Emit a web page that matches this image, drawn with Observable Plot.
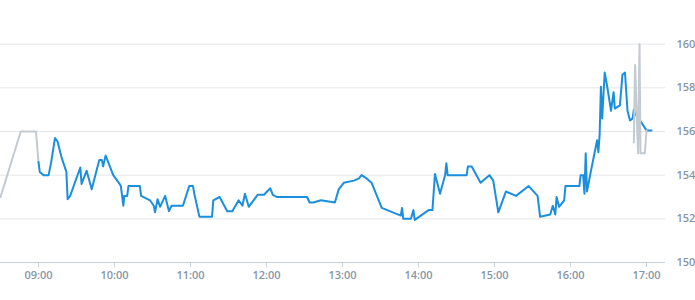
<!DOCTYPE html>
<html>
<head>
<meta charset="utf-8">
<script src="https://cdn.jsdelivr.net/npm/d3@7"></script>
<script src="https://cdn.jsdelivr.net/npm/@observablehq/plot@0.6"></script>
<style>
  html, body { margin: 0; padding: 0; background: #fff; }
  #chart svg { display: block; font-family: "Open Sans", sans-serif; }
</style>
</head>
<body>
<div id="chart"></div>
<script>
// Trading session (blue)
const mainTimes = ["09:00","09:01","09:04","09:08","09:10","09:13","09:15","09:18","09:22","09:23","09:25","09:33","09:34","09:38","09:42","09:48","09:50","09:51","09:53","09:59","10:04","10:05","10:07","10:07:40","10:10","10:11","10:20","10:21","10:28","10:31","10:32","10:34","10:36","10:40","10:43","10:45","10:54","10:59","11:02","11:03","11:07","11:17","11:18","11:23","11:29","11:33","11:38","11:41","11:43","11:46","11:53","11:58","12:03","12:05","12:08","12:32","12:34","12:37","12:43","12:54","12:57","13:01","13:09","13:13","13:15","13:19","13:23","13:31","13:46","13:47","13:48","13:54","13:56","13:57","14:08","14:11","14:13","14:17","14:21","14:22","14:23","14:38","14:39","14:42","14:49","14:56","14:59","15:03","15:09","15:17","15:27","15:34","15:36","15:44","15:46","15:48","15:49","15:51","15:55","15:56","16:07","16:08","16:10","16:11","16:12","16:13","16:16","16:21","16:22","16:23","16:24","16:25","16:27","16:29","16:32","16:34","16:35","16:39","16:41","16:43","16:45","16:47","16:49","16:50","16:51","16:55","17:00","17:04"];
const mainValues = [154.6,154.15,154.0,154.0,154.6,155.7,155.55,154.85,154.15,152.9,153.05,154.35,153.6,154.2,153.35,154.7,154.7,154.4,154.9,154.0,153.6,153.5,152.6,153.05,153.05,153.5,153.5,153.05,152.85,152.6,152.3,152.9,152.55,153.05,152.35,152.6,152.6,153.5,153.5,153.15,152.1,152.1,152.85,153.0,152.35,152.35,152.85,152.6,153.15,152.55,153.1,153.1,153.4,153.1,153.0,153.0,152.75,152.75,152.85,152.75,153.35,153.65,153.75,153.85,154.0,153.85,153.65,152.5,152.15,152.5,152.0,152.0,152.4,151.95,152.4,152.4,154.05,153.15,154.0,154.55,154.0,154.0,154.4,154.4,153.65,154.0,153.75,152.3,153.25,153.05,153.5,153.05,152.1,152.2,152.6,152.2,153.0,152.55,152.85,153.5,153.5,154.0,154.0,153.15,155.0,153.25,154.15,155.6,155.05,155.85,158.05,156.6,158.7,158.05,156.95,157.8,157.05,157.2,158.6,158.7,156.95,156.5,156.6,157.0,156.8,156.5,156.05,156.05];

// Pre-market (grey)
const preTimes = ["08:30","08:46","08:58","09:00"];
const preValues = [153.0,156.0,156.0,154.6];

// Post-market (grey)
const postTimes = ["16:50","16:51","16:53:20","16:54:30","16:55:15","16:58:40","17:00"];
const postValues = [155.5,159.05,155.0,160.0,155.0,155.0,156.05];

const yTicks = [150,152,154,156,158,160];
const xTickLabels = ["09:00","10:00","11:00","12:00","13:00","14:00","15:00","16:00","17:00"];
const xStart = "08:30", xEnd = "17:15";

const toDate = t => new Date(`2024-01-02T${t.length === 5 ? t + ":00" : t}`);
const rows = (ts, vs) => ts.map((t, i) => ({time: toDate(t), value: vs[i]}));
const mainData = rows(mainTimes, mainValues);
const preData = rows(preTimes, preValues);
const postData = rows(postTimes, postValues);

const labelColor = "#8796a6";

const chart = Plot.plot({
  width: 695,
  height: 300,
  marginLeft: 0,
  marginRight: 30,
  marginTop: 0,
  marginBottom: 38,
  style: {fontFamily: "'Open Sans', sans-serif", fontSize: "11px", background: "#fff"},
  x: {type: "time", domain: [toDate(xStart), toDate(xEnd)]},
  y: {domain: [150, 162]},
  marks: [
    Plot.gridY(yTicks, {stroke: "#e3e6e9", strokeOpacity: 1, strokeWidth: 1}),
    Plot.ruleY([150], {stroke: "#c8d0d9", strokeWidth: 1}),
    Plot.axisY(yTicks, {anchor: "right", tickSize: 0, tickPadding: 11, label: null,
      fill: labelColor, fontWeight: 600, fontSize: 11}),
    Plot.axisX(xTickLabels.map(toDate), {anchor: "bottom", tickSize: 5, tickPadding: 4,
      stroke: "#c8d0d9", tickFormat: d3.timeFormat("%H:%M"), label: null,
      fill: labelColor, fontWeight: 600, fontSize: 11}),
    Plot.line(preData, {x: "time", y: "value", stroke: "#c3cad1", strokeWidth: 2, clip: true}),
    Plot.line(mainData, {x: "time", y: "value", stroke: "#1a8fdd", strokeWidth: 2, clip: true}),
    Plot.line(postData, {x: "time", y: "value", stroke: "#c3cad1", strokeWidth: 2, clip: true})
  ]
});
document.getElementById("chart").appendChild(chart);
</script>
</body>
</html>
